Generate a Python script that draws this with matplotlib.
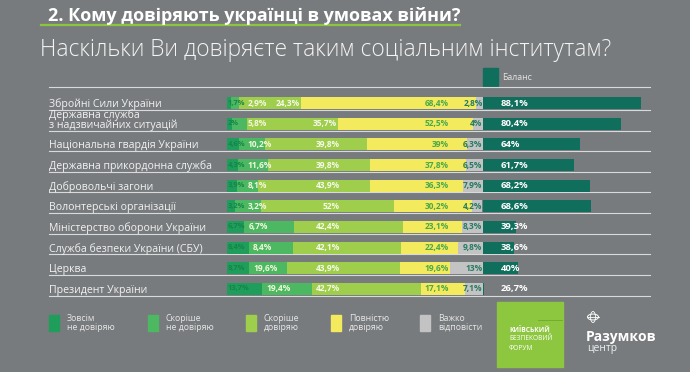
import matplotlib
matplotlib.use("Agg")
import matplotlib.pyplot as plt
import matplotlib.transforms as mtransforms
from matplotlib.patches import Rectangle, Circle, Ellipse
from matplotlib.lines import Line2D

plt.rcParams['font.family'] = ['Open Sans', 'DejaVu Sans']

# data
institutions = [
    "Збройні Сили України",
    "Державна служба\nз надзвичайних ситуацій",
    "Національна гвардія України",
    "Державна прикордонна служба",
    "Добровольчі загони",
    "Волонтерські організації",
    "Міністерство оборони України",
    "Служба безпеки України (СБУ)",
    "Церква",
    "Президент України",
]
no_trust = [1.7, 2, 4.6, 4.3, 3.9, 3.2, 6.7, 8.4, 8.7, 13.7]
rather_no = [2.9, 5.8, 10.2, 11.6, 8.1, 10.2, 19.5, 17.5, 14.8, 19.4]
# printed labels of the "rather not" segment (as shown on the original)
rather_no_text = ["2,9%", "5,8%", "10,2%", "11,6%", "8,1%", "3,2%", "6,7%", "8,4%", "19,6%", "19,4%"]
rather_yes = [24.3, 35.7, 39.8, 39.8, 43.9, 52, 42.4, 42.1, 43.9, 42.7]
full_trust = [68.4, 52.5, 39, 37.8, 36.3, 30.2, 23.1, 22.4, 19.6, 17.1]
hard_say = [2.8, 4, 6.3, 6.5, 7.9, 4.2, 8.3, 9.8, 13, 7.1]
balance = [88.1, 80.4, 64, 61.7, 68.2, 68.6, 39.3, 38.6, 40, 26.7]

legend_labels = ["Зовсім\nне довіряю", "Скоріше\nне довіряю", "Скоріше\nдовіряю",
                 "Повністю\nдовіряю", "Важко\nвідповісти"]

BG = "#787b7d"
C_DARK = "#1f9d5b"
C_MED = "#4db862"
C_LIGHT = "#9fcd4c"
C_YEL = "#f3ea5e"
C_GRAY = "#c3c3c3"
C_BAL = "#0f6e5c"
LINE = "#d9dadb"

W, H = 690, 372


def fx(x):
    return x / W


def fy(y):
    return 1 - y / H


def fmt(v):
    s = f"{v:g}".replace(".", ",")
    return s + "%"


fig = plt.figure(figsize=(W / 100, H / 100), dpi=100, facecolor=BG)

# row geometry (pixels)
row_top, row_bot = 92.7, 299.3
n = len(institutions)
bar_h = 0.58

ax = fig.add_axes([fx(227), fy(row_bot), fx(483) - fx(227), fy(row_top) - fy(row_bot)])
ax.set_xlim(0, 100)
ax.set_ylim(n - 0.5, -0.5)
ax.axis("off")

bal_lo = 26.3
ax2 = fig.add_axes([fx(483), fy(row_bot), fx(650) - fx(483), fy(row_top) - fy(row_bot)])
ax2.set_xlim(bal_lo, bal_lo + 167 / 2.56)
ax2.set_ylim(n - 0.5, -0.5)
ax2.axis("off")

ys = list(range(n))

# white guide lines under each row
tr = mtransforms.blended_transform_factory(fig.transFigure, ax.transData)
for i in ys:
    fig.add_artist(Line2D([fx(49), fx(650)], [i + bar_h / 2 + 0.04] * 2, transform=tr,
                          color=LINE, lw=0.8, zorder=0))
fig.add_artist(Line2D([fx(49), fx(650)], [fy(87)] * 2, color=LINE, lw=0.8))

left = [0] * n
for vals, col in [(no_trust, C_DARK), (rather_no, C_MED), (rather_yes, C_LIGHT),
                  (full_trust, C_YEL), (hard_say, C_GRAY)]:
    ax.barh(ys, vals, left=left, height=bar_h, color=col, zorder=2)
    left = [a + b for a, b in zip(left, vals)]

ax2.barh(ys, [b - bal_lo for b in balance], left=bal_lo, height=bar_h, color=C_BAL, zorder=2)

fs = 6.0
for i in ys:
    d = no_trust[i]
    m = rather_no[i]
    ax.text(0.4, i, fmt(d), ha="left", va="center", fontsize=5.4, fontweight="bold",
            color="#14854a", zorder=3)
    ax.text(max(d + 1.8, 8), i, rather_no_text[i], ha="left", va="center", fontsize=fs,
            fontweight="bold", color="#f3f8dc", zorder=3)
    ax.text(min(d + m + rather_yes[i], 44.5) - 0.5, i, fmt(rather_yes[i]), ha="right",
            va="center", fontsize=fs, fontweight="bold", color="#f6faea", zorder=3)
    ax.text(86.5, i, fmt(full_trust[i]), ha="right", va="center", fontsize=fs,
            fontweight="bold", color="#4aa84a", zorder=3)
    ax.text(99.8, i, fmt(hard_say[i]), ha="right", va="center", fontsize=fs,
            fontweight="bold", color="#257a62", zorder=3)
    ax2.text(0.108, i, fmt(balance[i]), transform=ax2.get_yaxis_transform(), ha="left",
             va="center", fontsize=6.8, fontweight="bold", color="white", zorder=3)
    # row label, line by line so a two-line label stays inside its row
    for k, part in enumerate(reversed(institutions[i].split("\n"))):
        ax.annotate(part, xy=(fx(49), i + bar_h / 2 + 0.04), xycoords=tr,
                    xytext=(0, 2.0 + 7.1 * k), textcoords="offset points", ha="left",
                    va="baseline", fontsize=7.6, color="#f2f2f2")

# titles
fig.text(fx(48), fy(16), "2. Кому довіряють українці в умовах війни?", ha="left",
         va="center", fontsize=13.0, fontweight="bold", color="white")
fig.add_artist(Line2D([fx(41), fx(460)], [fy(25)] * 2, color="#8cc63f", lw=1.6))
fig.text(fx(40), fy(50), "Наскільки Ви довіряєте таким соціальним інститутам?", ha="left",
         va="center", fontsize=16.4, fontweight="light", color="#f4f4f4")

# balance legend
fig.add_artist(Rectangle((fx(483), fy(86)), fx(15), 18 / H, color=C_BAL))
fig.text(fx(502), fy(77), "Баланс", ha="left", va="center", fontsize=6.3, color="#e4e4e4")

# bottom legend
for lx, col, lab in zip([49, 148, 246, 331, 420],
                        [C_DARK, C_MED, C_LIGHT, C_YEL, C_GRAY], legend_labels):
    fig.add_artist(Rectangle((fx(lx), fy(331)), fx(10), 16 / H, color=col))
    fig.text(fx(lx + 18), fy(323), lab, ha="left", va="center", fontsize=6.3,
             color="#e6e6e6", linespacing=0.9)

# Kyiv security forum logo
fig.add_artist(Rectangle((fx(497), fy(367)), fx(66), 65 / H, color="#8dc63f"))
fig.add_artist(Line2D([fx(538), fx(562)], [fy(320)] * 2, color="#6ea82c", lw=0.6))
for ty, t, w in [(330, "КИЇВСЬКИЙ", "bold"), (339, "БЕЗПЕКОВИЙ", "normal"),
                 (348, "ФОРУМ", "normal")]:
    fig.text(fx(509), fy(ty), t, ha="left", va="center", fontsize=4.8, color="white",
             fontweight=w)

# Razumkov logo
gx, gy = fx(593), fy(317)
fig.add_artist(Circle((gx, gy), 5.5 / W, transform=fig.transFigure, fill=False,
                      ec="white", lw=0.7))
fig.add_artist(Ellipse((gx, gy), 5 / W, 11 / H, fill=False, ec="white", lw=0.6))
fig.add_artist(Line2D([gx - 5.5 / W, gx + 5.5 / W], [gy, gy], color="white", lw=0.6))
fig.text(fx(586), fy(337), "Разумков", ha="left", va="center", fontsize=10,
         fontweight="bold", color="white")
fig.text(fx(587), fy(349), "центр", ha="left", va="center", fontsize=7.5, color="#eeeeee")

fig.savefig("out.png", dpi=100, facecolor=BG)
